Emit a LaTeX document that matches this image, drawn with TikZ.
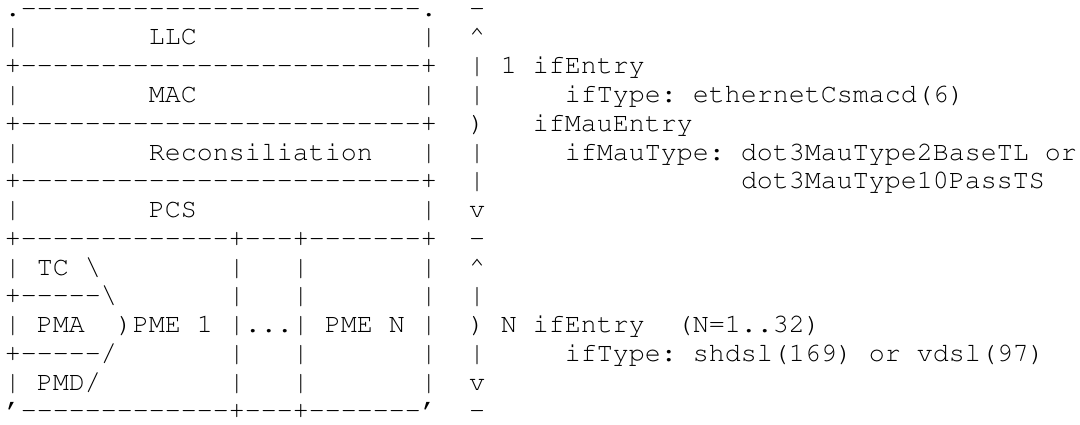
\documentclass[tikz,border=0pt]{standalone}
\usepackage[T1]{fontenc}
\usepackage{courier}
\newcommand{\rep}[2]{\foreach\i in {1,...,#1}{#2}}
\begin{document}
\begin{tikzpicture}[x=6pt,y=-10.785pt,
    asc/.style={anchor=base west,inner sep=0pt,outer sep=0pt,
      font=\fontsize{10}{10}\ttfamily\frenchspacing}]
	  \fill[white] (-0.3125,-0.5637) rectangle (67.1875,14.179);
	  \useasboundingbox (-0.3125,-0.5637) rectangle (67.1875,14.179);
	  % stack of layers
	  \node[asc] (r0) at (0,0) {.\rep{25}{-}.};
	  \node[asc] (llc) at (0,1) {|\rep{8}{~}LLC\rep{14}{~}|};
	  \node[asc] (r2) at (0,2) {+\rep{25}{-}+};
	  \node[asc] (mac) at (0,3) {|\rep{8}{~}MAC\rep{14}{~}|};
	  \node[asc] (r4) at (0,4) {+\rep{25}{-}+};
	  \node[asc] (rs) at (0,5) {|\rep{8}{~}Reconsiliation\rep{3}{~}|};
	  \node[asc] (r6) at (0,6) {+\rep{25}{-}+};
	  \node[asc] (pcs) at (0,7) {|\rep{8}{~}PCS\rep{14}{~}|};
	  \node[asc] (r8) at (0,8) {+\rep{13}{-}+\rep{3}{-}+\rep{7}{-}+};
	  \node[asc] (tc) at (0,9) {|~TC~\textbackslash\rep{8}{~}|\rep{3}{~}|\rep{7}{~}|};
	  \node[asc] (r10) at (0,10) {+\rep{5}{-}\textbackslash\rep{7}{~}|\rep{3}{~}|\rep{7}{~}|};
	  \node[asc] (pma) at (0,11) {|~PMA~~)PME~1~|...|~PME~N~|};
	  \node[asc] (r12) at (0,12) {+\rep{5}{-}/\rep{7}{~}|\rep{3}{~}|\rep{7}{~}|};
	  \node[asc] (pmd) at (0,13) {|~PMD/\rep{8}{~}|\rep{3}{~}|\rep{7}{~}|};
	  \node[asc] (r14) at (0,14) {'\rep{13}{-}+\rep{3}{-}+\rep{7}{-}'};
	  % upper bracket: 1 ifEntry
	  \node[asc] (b0) at (29,0) {-};
	  \node[asc] (b1) at (29,1) {\textasciicircum};
	  \node[asc] (b2) at (29,2) {|~1~ifEntry};
	  \node[asc] (b3) at (29,3) {|\rep{5}{~}ifType:~ethernetCsmacd(6)};
	  \node[asc] (b4) at (29,4) {)\rep{3}{~}ifMauEntry};
	  \node[asc] (b5) at (29,5) {|\rep{5}{~}ifMauType:~dot3MauType2BaseTL~or};
	  \node[asc] (b6) at (29,6) {|\rep{16}{~}dot3MauType10PassTS};
	  \node[asc] (b7) at (29,7) {v};
	  % lower bracket: N ifEntry
	  \node[asc] (b8) at (29,8) {-};
	  \node[asc] (b9) at (29,9) {\textasciicircum};
	  \node[asc] (b10) at (29,10) {|};
	  \node[asc] (b11) at (29,11) {)~N~ifEntry~~(N=1..32)};
	  \node[asc] (b12) at (29,12) {|\rep{5}{~}ifType:~shdsl(169)~or~vdsl(97)};
	  \node[asc] (b13) at (29,13) {v};
	  \node[asc] (b14) at (29,14) {-};
	\end{tikzpicture}
\end{document}
